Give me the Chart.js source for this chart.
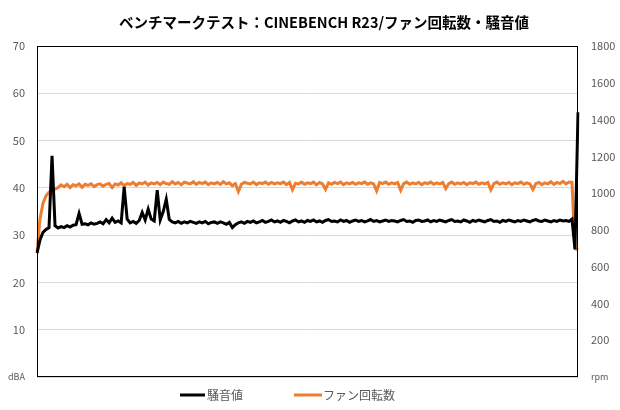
<!DOCTYPE html>
<html><head><meta charset="utf-8">
<script src="https://cdn.jsdelivr.net/npm/chart.js@4/dist/chart.umd.min.js"></script>
<style>html,body{margin:0;padding:0;background:#fff}#wrap{width:620px;height:410px}</style>
</head><body><div id="wrap"><canvas id="c" width="620" height="410"></canvas></div>
<script>
const titleText = 'ベンチマークテスト：CINEBENCH R23/ファン回転数・騒音値';
const seriesNames = ['騒音値', 'ファン回転数'];
const leftTicks = { min: 0, max: 70, step: 10, zeroLabel: 'dBA' };
const rightTicks = { min: 0, max: 1800, step: 200, zeroLabel: 'rpm' };

// 騒音値 (dBA)
const noise = [
 26.2, 29.0, 30.6, 31.2, 31.6, 46.8, 32.0, 31.5, 31.8, 31.6, 32.0, 31.7, 32.1, 32.2, 34.6, 32.3, 32.4, 32.2, 32.6, 32.3,
 32.5, 32.8, 32.4, 33.3, 32.6, 33.6, 32.7, 33.0, 32.6, 40.2, 33.4, 32.6, 32.9, 32.5, 33.1, 34.8, 33.2, 35.5, 33.4, 33.0,
 39.5, 33.2, 35.0, 37.6, 33.3, 32.8, 32.6, 32.9, 32.5, 32.8, 32.6, 32.9, 32.7, 32.5, 32.8, 32.6, 32.9, 32.4, 32.7, 32.8,
 32.5, 32.8, 32.6, 32.3, 32.7, 31.6, 32.2, 32.6, 32.8, 32.5, 32.9, 32.7, 33.0, 32.6, 32.8, 33.1, 32.7, 32.9, 33.2, 32.8,
 33.0, 32.7, 33.1, 32.9, 32.6, 33.0, 33.2, 32.8, 33.0, 32.7, 33.1, 32.9, 33.2, 32.8, 33.0, 32.7, 33.1, 33.3, 32.9, 33.0,
 32.8, 33.2, 32.9, 33.1, 32.7, 33.0, 33.2, 32.9, 33.1, 32.8, 33.0, 33.3, 32.9, 33.1, 32.8, 33.0, 33.2, 32.9, 33.1, 33.0,
 32.8, 33.1, 33.3, 32.9, 33.0, 32.7, 33.1, 33.2, 32.9, 33.0, 33.2, 32.8, 33.1, 32.9, 33.2, 33.0, 32.8, 33.1, 33.3, 32.9,
 33.0, 32.8, 33.2, 33.0, 32.7, 33.1, 32.9, 33.2, 33.0, 32.8, 33.1, 33.3, 32.9, 33.0, 32.7, 33.1, 32.9, 33.2, 33.0, 32.8,
 33.1, 32.9, 33.2, 33.0, 32.8, 33.1, 33.3, 33.0, 32.9, 33.2, 33.0, 32.8, 33.1, 32.9, 33.2, 33.0, 33.1, 32.9, 33.4, 27.0, 56.0
];

// ファン回転数 (rpm)
const fan = [
 674, 860, 945, 985, 1005, 1015, 1022, 1030, 1045, 1035, 1048, 1030, 1046, 1040, 1050, 1032, 1048, 1042, 1050, 1035,
 1046, 1050, 1038, 1048, 1052, 1030, 1050, 1044, 1056, 1040, 1052, 1048, 1058, 1042, 1055, 1050, 1060, 1044, 1056, 1050,
 1058, 1046, 1060, 1052, 1048, 1062, 1050, 1058, 1045, 1060, 1055, 1050, 1062, 1048, 1058, 1052, 1060, 1046, 1056, 1050,
 1058, 1048, 1062, 1050, 1056, 1040, 1052, 1008, 1048, 1058, 1054, 1050, 1060, 1046, 1056, 1052, 1060, 1048, 1058, 1050,
 1056, 1052, 1060, 1046, 1058, 1018, 1054, 1050, 1060, 1048, 1056, 1052, 1060, 1045, 1058, 1050, 1020, 1056, 1048, 1058,
 1052, 1060, 1046, 1056, 1050, 1058, 1048, 1056, 1052, 1060, 1048, 1056, 1050, 1012, 1058, 1052, 1060, 1048, 1056, 1050,
 1058, 1015, 1052, 1060, 1048, 1056, 1050, 1058, 1046, 1056, 1052, 1060, 1048, 1056, 1050, 1058, 1025, 1052, 1060, 1048,
 1056, 1050, 1058, 1046, 1056, 1052, 1060, 1048, 1056, 1050, 1058, 1018, 1052, 1060, 1048, 1056, 1050, 1058, 1046, 1056,
 1052, 1060, 1048, 1056, 1050, 1020, 1052, 1058, 1046, 1056, 1050, 1062, 1048, 1058, 1052, 1064, 1050, 1060, 1058, 700, 690
];

const samples = noise.map((_, i) => i);
const colors = ['#000000', '#ED7D31'];
const FONT = '"Noto Sans CJK JP", "Noto Sans", sans-serif';
const GREY = '#595959';

const decor = {
  id: 'decor',
  afterDraw(chart) {
    const ctx = chart.ctx, a = chart.chartArea;
    ctx.save();
    ctx.strokeStyle = '#000'; ctx.lineWidth = 1;
    ctx.strokeRect(Math.round(a.left) + 0.5, Math.round(a.top) + 0.5, Math.round(a.right - a.left) - 1, Math.round(a.bottom - a.top) - 1);
    // title
    ctx.fillStyle = '#000';
    ctx.font = 'bold 14.5px ' + FONT;
    ctx.textAlign = 'center'; ctx.textBaseline = 'middle';
    ctx.fillText(titleText, 324, 22);
    // legend
    ctx.font = '12px ' + FONT;
    ctx.textAlign = 'left';
    const items = [[180, 205, 207], [294, 322, 323]];
    items.forEach((it, k) => {
      ctx.strokeStyle = colors[k]; ctx.lineWidth = 3;
      ctx.beginPath(); ctx.moveTo(it[0], 395); ctx.lineTo(it[1], 395); ctx.stroke();
      ctx.fillStyle = GREY;
      ctx.fillText(seriesNames[k], it[2], 395);
    });
    ctx.restore();
  }
};

new Chart(document.getElementById('c'), {
  type: 'line',
  data: {
    labels: samples,
    datasets: [
      { label: seriesNames[0], data: noise, yAxisID: 'y', borderColor: colors[0], borderWidth: 3, pointRadius: 0, tension: 0 },
      { label: seriesNames[1], data: fan, yAxisID: 'y1', borderColor: colors[1], borderWidth: 3, pointRadius: 0, tension: 0 }
    ]
  },
  options: {
    responsive: false, animation: false,
    layout: { padding: { top: 46, bottom: 33, left: 0, right: 0 } },
    plugins: { legend: { display: false }, title: { display: false }, tooltip: { enabled: false } },
    scales: {
      x: { type: 'category', display: false, offset: false },
      y: {
        position: 'left', min: leftTicks.min, max: leftTicks.max,
        afterFit(s) { s.width = 37; },
        border: { display: false },
        grid: { color: '#d9d9d9', drawTicks: false, lineWidth: 1 },
        ticks: {
          stepSize: leftTicks.step, padding: 12, color: GREY,
          font: (c) => ({ family: FONT, size: (c.tick && c.tick.value === 0) ? 9 : 11 }),
          callback: (v) => v === 0 ? leftTicks.zeroLabel : v
        }
      },
      y1: {
        position: 'right', min: rightTicks.min, max: rightTicks.max,
        afterFit(s) { s.width = 42; },
        border: { display: false },
        grid: { drawOnChartArea: false, drawTicks: false },
        ticks: {
          stepSize: rightTicks.step, padding: 13, color: GREY,
          font: (c) => ({ family: FONT, size: (c.tick && c.tick.value === 0) ? 9 : 11 }),
          callback: (v) => v === 0 ? rightTicks.zeroLabel : v
        }
      }
    }
  },
  plugins: [decor]
});
</script></body></html>
